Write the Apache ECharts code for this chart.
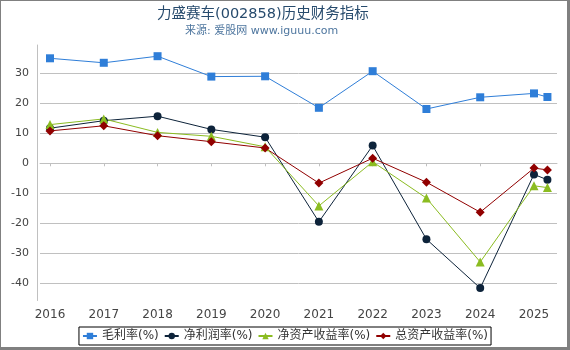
<!DOCTYPE html>
<html><head><meta charset="utf-8">
<script src="https://cdn.jsdelivr.net/npm/echarts@6/dist/echarts.min.js"></script>
<style>
html,body{margin:0;padding:0;background:#fff}
#c{position:absolute;left:0;top:0;width:570px;height:350px}
#f{position:absolute;left:0;top:0;width:570px;height:350px;box-sizing:border-box;border-left:1px solid #808080;border-top:1px solid #808080;border-right:3px solid #808080;border-bottom:3px solid #808080;pointer-events:none}
</style>
</head><body><div id="c"></div><div id="f"></div>
<script>
const periods = [2016, 2017, 2018, 2019, 2020, 2021, 2022, 2023, 2024, 2025, 2025.25];
const yearTicks = [2016, 2017, 2018, 2019, 2020, 2021, 2022, 2023, 2024, 2025];
const yTicks = [-40, -30, -20, -10, 0, 10, 20, 30];
const grossMargin = [35.0, 33.5, 35.7, 28.9, 29.0, 18.5, 30.7, 18.1, 22.0, 23.3, 22.1];
const netMargin = [11.7, 14.2, 15.7, 11.3, 8.7, -19.5, 5.9, -25.3, -41.6, -3.7, -5.5];
const roe = [12.9, 14.8, 10.3, 9.0, 5.5, -14.2, 0.5, -11.6, -32.9, -7.5, -8.1];
const roa = [10.8, 12.5, 9.2, 7.2, 5.1, -6.6, 1.7, -6.3, -16.3, -1.6, -2.2];
const seriesNames = ['毛利率(%)', '净利润率(%)', '净资产收益率(%)', '总资产收益率(%)'];
const titleText = '力盛赛车(002858)历史财务指标';
const subtitleText = '来源: 爱股网 www.iguuu.com';

const FONT = '"DejaVu Sans", "Noto Sans CJK SC", sans-serif';
const colors = ['#2f7ed8', '#0d233a', '#8bbc21', '#910000'];
const symbols = ['rect', 'circle', 'triangle', 'diamond'];
const symbolSizes = [8, 8, 9, 9];
const allData = [grossMargin, netMargin, roe, roa];

const chart = echarts.init(document.getElementById('c'), null, {renderer: 'canvas'});
chart.setOption({
  animation: false,
  backgroundColor: '#fff',
  title: [
    {text: titleText, left: 152, top: 2, textStyle: {fontFamily: FONT, fontSize: 14.5, fontWeight: 'normal', color: '#274b6d'}},
    {text: subtitleText, left: 180, top: 21, textStyle: {fontFamily: FONT, fontSize: 11, fontWeight: 'normal', color: '#4d759e'}}
  ],
  legend: {
    top: 327, left: 'center',
    itemWidth: 14, itemHeight: 8, itemGap: 5,
    padding: [3, 3, 3, 3],
    borderColor: '#000', borderWidth: 1,
    textStyle: {fontFamily: FONT, fontSize: 12, color: '#333'},
    data: seriesNames
  },
  grid: {left: 40, right: 13, top: 45, bottom: 49.5, containLabel: false},
  xAxis: {
    type: 'value', min: 2015.814, max: 2025.428, splitNumber: 10, offset: 4,
    axisLine: {show: true, lineStyle: {color: '#c0c0c0'}},
    axisTick: {show: true, length: 3, lineStyle: {color: '#c0c0c0'}, customValues: yearTicks},
    axisLabel: {customValues: yearTicks, color: '#444', fontFamily: FONT, fontSize: 12, margin: 4, formatter: v => String(Math.round(v))},
    splitLine: {show: false}
  },
  yAxis: {
    type: 'value', min: -45.73, max: 39.43, splitNumber: 8, offset: 3,
    axisLine: {show: true, lineStyle: {color: '#c0c0c0'}},
    axisTick: {show: false, customValues: yTicks},
    axisLabel: {customValues: yTicks, color: '#444', fontFamily: FONT, fontSize: 11, margin: 8, formatter: v => String(Math.round(v))},
    splitLine: {show: true, lineStyle: {color: '#c0c0c0', width: 1}}
  },
  series: seriesNames.map((name, i) => ({
    name, type: 'line',
    data: periods.map((p, j) => [p, allData[i][j]]),
    symbol: symbols[i], symbolSize: symbolSizes[i],
    lineStyle: {width: 1, color: colors[i]},
    itemStyle: {color: colors[i]},
    color: colors[i]
  }))
});
</script></body></html>
